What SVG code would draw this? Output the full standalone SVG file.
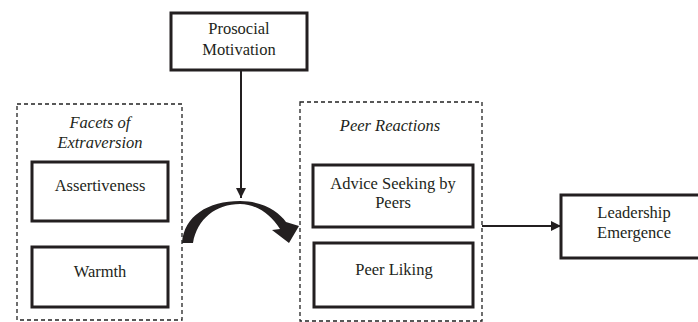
<svg xmlns="http://www.w3.org/2000/svg" width="698" height="322" viewBox="0 0 698 322">
<defs>
<style>
.dash{fill:none;stroke:#222;stroke-width:1.3;stroke-dasharray:4,3}
.box{fill:#fff;stroke:#231f20;stroke-width:3}
.t{font-family:'Liberation Serif','Times New Roman','DejaVu Serif',serif;font-size:16.5px;fill:#231f20;text-anchor:middle}
.i{font-style:italic}
.ln{stroke:#231f20;stroke-width:2;fill:none}
</style>
<marker id="ah" markerWidth="10" markerHeight="10" viewBox="0 0 10 10" refX="10" refY="5" orient="auto" markerUnits="userSpaceOnUse">
<path d="M0,0 L10,5 L0,10 Z" fill="#231f20"/>
</marker>
</defs>
<rect width="698" height="322" fill="#fff"/>
<g id="facets">
<rect class="dash" x="17" y="104" width="165" height="216"/>
<text class="t i" x="100" y="127.5">Facets of</text>
<text class="t i" x="100" y="147.5">Extraversion</text>
</g>
<g id="assertiveness">
<rect class="box" x="32" y="162" width="136" height="59"/>
<text class="t" x="100" y="191">Assertiveness</text>
</g>
<g id="warmth">
<rect class="box" x="32" y="247" width="136" height="60"/>
<text class="t" x="100" y="277">Warmth</text>
</g>
<g id="prosocial">
<rect class="box" x="171" y="13" width="136" height="57"/>
<text class="t" x="239" y="33.5">Prosocial</text>
<text class="t" x="239" y="54.5">Motivation</text>
</g>
<g id="peer-reactions">
<rect class="dash" x="300" y="102" width="182" height="219"/>
<text class="t i" x="390" y="130.5">Peer Reactions</text>
</g>
<g id="advice">
<rect class="box" x="313" y="165" width="160" height="62"/>
<text class="t" x="393" y="188.5">Advice Seeking by</text>
<text class="t" x="393" y="207.5">Peers</text>
</g>
<g id="liking">
<rect class="box" x="314" y="243" width="159" height="64"/>
<text class="t" x="394" y="275">Peer Liking</text>
</g>
<g id="leadership">
<rect class="box" x="561" y="195" width="140" height="63"/>
<text class="t" x="634" y="217.5">Leadership</text>
<text class="t" x="634" y="237.5">Emergence</text>
</g>
<g id="connectors">
<line class="ln" x1="241" y1="70" x2="241" y2="198" marker-end="url(#ah)"/>
<line class="ln" x1="482" y1="226" x2="561" y2="226" marker-end="url(#ah)"/>
<path d="M182,243 C184,216 208,201 240,201 C263,201 279,212 286,222 L299,226 L289,243 L272,230 L280,229 C271,215 257,204 240,204 C216,204 197,219 193,243 Z" fill="#231f20"/>
</g>
</svg>
